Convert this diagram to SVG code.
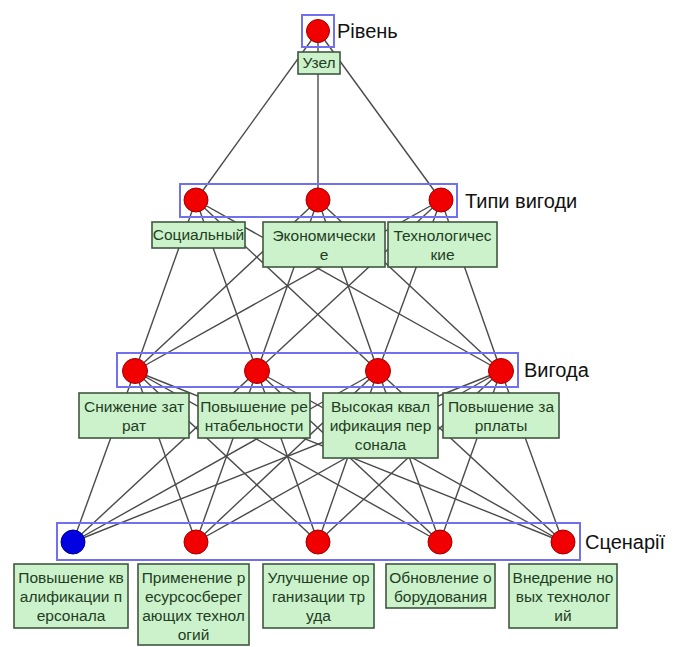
<svg xmlns="http://www.w3.org/2000/svg" width="674" height="647" viewBox="0 0 674 647">
  <defs>
    <style>
      .edge { stroke: #4a4a4a; stroke-width: 1.4; fill: none; }
      .frame { fill: none; stroke: #7070f0; stroke-width: 2; }
      .dot { fill: #f00000; stroke: #a00000; stroke-width: 1; }
      .dot.sel { fill: #0000e0; stroke: #00008a; }
      .box { fill: #ccf2cc; stroke: #3f573f; stroke-width: 1.6; }
      .bt { font-family: "Liberation Sans", Arial, sans-serif; font-size: 15.5px; fill: #233d23; text-anchor: middle; }
      .lvl { font-family: "Liberation Sans", Arial, sans-serif; font-size: 20px; fill: #111; }
    </style>
  </defs>
  <rect width="674" height="647" fill="#fff"/>

  <!-- connectors between levels (circle centre to circle centre) -->
  <g id="connectors">
    <!-- root to benefit types -->
    <line class="edge" x1="318" y1="31" x2="196" y2="200"/>
    <line class="edge" x1="318" y1="31" x2="318" y2="200"/>
    <line class="edge" x1="318" y1="31" x2="441" y2="200"/>
    <!-- benefit types to benefits -->
    <line class="edge" x1="196" y1="200" x2="135" y2="371"/>
    <line class="edge" x1="196" y1="200" x2="257" y2="371"/>
    <line class="edge" x1="196" y1="200" x2="378" y2="371"/>
    <line class="edge" x1="196" y1="200" x2="501" y2="371"/>
    <line class="edge" x1="318" y1="200" x2="135" y2="371"/>
    <line class="edge" x1="318" y1="200" x2="257" y2="371"/>
    <line class="edge" x1="318" y1="200" x2="378" y2="371"/>
    <line class="edge" x1="318" y1="200" x2="501" y2="371"/>
    <line class="edge" x1="441" y1="200" x2="135" y2="371"/>
    <line class="edge" x1="441" y1="200" x2="257" y2="371"/>
    <line class="edge" x1="441" y1="200" x2="378" y2="371"/>
    <line class="edge" x1="441" y1="200" x2="501" y2="371"/>
    <!-- benefits to scenarios -->
    <line class="edge" x1="135" y1="371" x2="73" y2="542"/>
    <line class="edge" x1="135" y1="371" x2="196" y2="542"/>
    <line class="edge" x1="135" y1="371" x2="318" y2="542"/>
    <line class="edge" x1="135" y1="371" x2="440" y2="542"/>
    <line class="edge" x1="135" y1="371" x2="563" y2="542"/>
    <line class="edge" x1="257" y1="371" x2="73" y2="542"/>
    <line class="edge" x1="257" y1="371" x2="196" y2="542"/>
    <line class="edge" x1="257" y1="371" x2="318" y2="542"/>
    <line class="edge" x1="257" y1="371" x2="440" y2="542"/>
    <line class="edge" x1="257" y1="371" x2="563" y2="542"/>
    <line class="edge" x1="378" y1="371" x2="73" y2="542"/>
    <line class="edge" x1="378" y1="371" x2="196" y2="542"/>
    <line class="edge" x1="378" y1="371" x2="318" y2="542"/>
    <line class="edge" x1="378" y1="371" x2="440" y2="542"/>
    <line class="edge" x1="378" y1="371" x2="563" y2="542"/>
    <line class="edge" x1="501" y1="371" x2="73" y2="542"/>
    <line class="edge" x1="501" y1="371" x2="196" y2="542"/>
    <line class="edge" x1="501" y1="371" x2="318" y2="542"/>
    <line class="edge" x1="501" y1="371" x2="440" y2="542"/>
    <line class="edge" x1="501" y1="371" x2="563" y2="542"/>
  </g>

  <!-- level frames with their captions -->
  <g id="level-root">
    <rect class="frame" x="302" y="15" width="32" height="32"/>
    <text class="lvl" x="337" y="38">Рівень</text>
  </g>
  <g id="level-types">
    <rect class="frame" x="180" y="184" width="277" height="33"/>
    <text class="lvl" x="465" y="208">Типи вигоди</text>
  </g>
  <g id="level-benefits">
    <rect class="frame" x="117" y="353" width="401" height="34"/>
    <text class="lvl" x="524" y="377">Вигода</text>
  </g>
  <g id="level-scenarios">
    <rect class="frame" x="57" y="523" width="523" height="37"/>
    <text class="lvl" x="585" y="549">Сценарії</text>
  </g>

  <!-- root -->
  <g id="node-root">
    <circle class="dot" cx="318" cy="31" r="11.5"/>
    <rect class="box" x="298" y="52" width="42" height="22"/>
    <text class="bt" x="319" y="68">Узел</text>
  </g>

  <!-- benefit types -->
  <g id="node-social">
    <circle class="dot" cx="196" cy="200" r="12"/>
    <rect class="box" x="152" y="222" width="93" height="26"/>
    <text class="bt" x="198.5" y="240">Социальный</text>
  </g>
  <g id="node-economic">
    <circle class="dot" cx="318" cy="200" r="12"/>
    <rect class="box" x="263" y="222" width="122" height="45"/>
    <text class="bt" x="324" y="241">Экономически</text>
    <text class="bt" x="324" y="260">е</text>
  </g>
  <g id="node-tech">
    <circle class="dot" cx="441" cy="200" r="12"/>
    <rect class="box" x="388" y="222" width="109" height="45"/>
    <text class="bt" x="442.5" y="241">Технологичес</text>
    <text class="bt" x="442.5" y="260">кие</text>
  </g>

  <!-- benefits -->
  <g id="node-cost">
    <circle class="dot" cx="135" cy="371" r="12.5"/>
    <rect class="box" x="79" y="393" width="110" height="45"/>
    <text class="bt" x="134" y="412">Снижение зат</text>
    <text class="bt" x="134" y="431">рат</text>
  </g>
  <g id="node-profit">
    <circle class="dot" cx="257" cy="371" r="12.5"/>
    <rect class="box" x="198" y="393" width="112" height="45"/>
    <text class="bt" x="254" y="412">Повышение ре</text>
    <text class="bt" x="254" y="431">нтабельности</text>
  </g>
  <g id="node-skill">
    <circle class="dot" cx="378" cy="371" r="12.5"/>
    <rect class="box" x="323" y="393" width="115" height="65"/>
    <text class="bt" x="380.5" y="412">Высокая квал</text>
    <text class="bt" x="380.5" y="431">ификация пер</text>
    <text class="bt" x="380.5" y="450">сонала</text>
  </g>
  <g id="node-wage">
    <circle class="dot" cx="501" cy="371" r="12.5"/>
    <rect class="box" x="443" y="393" width="116" height="45"/>
    <text class="bt" x="501" y="412">Повышение за</text>
    <text class="bt" x="501" y="431">рплаты</text>
  </g>

  <!-- scenarios -->
  <g id="node-training">
    <circle class="dot sel" cx="73" cy="542" r="12"/>
    <rect class="box" x="14" y="564" width="114" height="64"/>
    <text class="bt" x="71" y="583">Повышение кв</text>
    <text class="bt" x="71" y="602">алификации п</text>
    <text class="bt" x="71" y="621">ерсонала</text>
  </g>
  <g id="node-resource">
    <circle class="dot" cx="196" cy="542" r="12"/>
    <rect class="box" x="138" y="564" width="111" height="81"/>
    <text class="bt" x="193.5" y="583">Применение р</text>
    <text class="bt" x="193.5" y="602">есурсосберег</text>
    <text class="bt" x="193.5" y="621">ающих технол</text>
    <text class="bt" x="193.5" y="640">огий</text>
  </g>
  <g id="node-labour">
    <circle class="dot" cx="318" cy="542" r="12"/>
    <rect class="box" x="263" y="564" width="111" height="64"/>
    <text class="bt" x="318.5" y="583">Улучшение ор</text>
    <text class="bt" x="318.5" y="602">ганизации тр</text>
    <text class="bt" x="318.5" y="621">уда</text>
  </g>
  <g id="node-equipment">
    <circle class="dot" cx="440" cy="542" r="12"/>
    <rect class="box" x="386" y="564" width="109" height="44"/>
    <text class="bt" x="440.5" y="583">Обновление о</text>
    <text class="bt" x="440.5" y="602">борудования</text>
  </g>
  <g id="node-newtech">
    <circle class="dot" cx="563" cy="542" r="12"/>
    <rect class="box" x="509" y="564" width="108" height="64"/>
    <text class="bt" x="563" y="583">Внедрение но</text>
    <text class="bt" x="563" y="602">вых технолог</text>
    <text class="bt" x="563" y="621">ий</text>
  </g>
</svg>
